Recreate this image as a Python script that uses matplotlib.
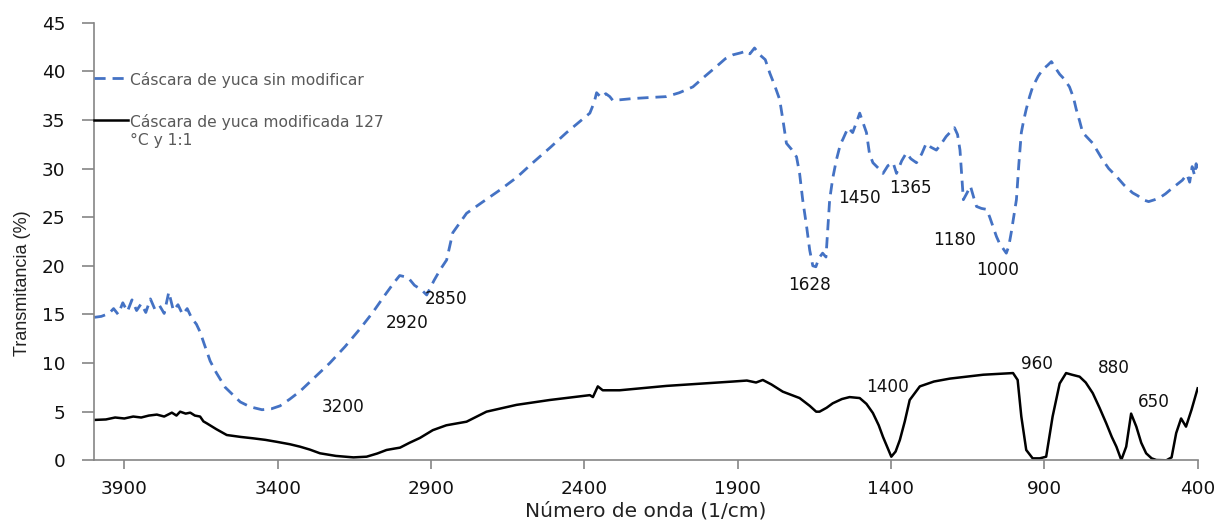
import matplotlib.pyplot as plt
from matplotlib.offsetbox import HPacker

# -------------------------------------------------------------------
# Data (wavenumber in 1/cm, transmittance %)
# -------------------------------------------------------------------
wn_sin = [3998, 3975, 3950, 3935, 3920, 3905, 3890, 3875, 3860, 3845,
          3830, 3815, 3800, 3785, 3770, 3755, 3740, 3725, 3710, 3695,
          3680, 3665, 3653, 3640, 3620, 3600, 3571, 3545, 3522, 3490,
          3451, 3420, 3392, 3360, 3327, 3280, 3230, 3180, 3132, 3090,
          3050, 3020, 3002, 2975, 2954, 2930, 2914, 2890, 2870, 2849,
          2829, 2784, 2730, 2675, 2620, 2568, 2510, 2458, 2420, 2382,
          2368, 2360, 2345, 2330, 2317, 2307, 2275, 2242, 2190, 2132,
          2090, 2046, 2010, 1969, 1940, 1915, 1890, 1870, 1860, 1845,
          1828, 1810, 1795, 1780, 1763, 1750, 1741, 1725, 1708, 1698,
          1688, 1675, 1665, 1655, 1645, 1635, 1623, 1612, 1600, 1590,
          1578, 1565, 1557, 1540, 1525, 1512, 1502, 1490, 1480, 1470,
          1459, 1440, 1426, 1410, 1393, 1382, 1365, 1350, 1335, 1317,
          1300, 1285, 1270, 1252, 1235, 1220, 1205, 1193, 1183, 1175,
          1164, 1152, 1141, 1130, 1121, 1105, 1088, 1078, 1068, 1056,
          1046, 1035, 1024, 1016, 1008, 1000, 991, 983, 975, 967,
          959, 948, 938, 920, 905, 890, 877, 865, 850, 835,
          818, 805, 796, 785, 775, 760, 742, 725, 710, 690,
          665, 640, 612, 595, 579, 560, 540, 524, 505, 490,
          470, 450, 435, 426, 418, 410, 405, 400]
t_sin = [14.7, 14.8, 15.1, 15.6, 15.0, 16.2, 15.3, 16.5, 15.4, 16.1,
         15.2, 16.6, 15.5, 15.9, 15.1, 17.3, 15.4, 16.0, 15.0, 15.6,
         14.6, 14.0, 13.2, 12.0, 10.2, 9.0, 7.5, 6.7, 6.0, 5.5,
         5.2, 5.3, 5.6, 6.3, 7.1, 8.5, 10.0, 11.7, 13.5, 15.2,
         17.0, 18.3, 19.0, 18.8, 18.0, 17.5, 17.0, 18.5, 19.6, 20.6,
         23.4, 25.4, 26.6, 27.8, 29.1, 30.6, 32.2, 33.7, 34.7, 35.7,
         36.8, 37.8, 37.3, 37.7, 37.4, 37.0, 37.1, 37.2, 37.3, 37.4,
         37.8, 38.4, 39.4, 40.5, 41.3, 41.7, 41.9, 42.1, 41.8, 42.4,
         41.7, 41.2, 39.8, 38.6, 37.1, 34.5, 32.6, 32.0, 31.2, 29.5,
         26.8, 24.0, 21.6, 20.0, 19.9, 20.8, 21.3, 20.9, 26.8, 29.0,
         30.9, 32.5, 33.0, 34.2, 33.7, 34.8, 35.7, 34.6, 33.7, 31.5,
         30.6, 30.0, 29.5, 30.3, 30.6, 29.5, 30.8, 31.6, 31.0, 30.6,
         31.5, 32.6, 32.2, 31.9, 32.6, 33.3, 33.8, 34.2, 33.5, 31.9,
         26.8, 27.5, 28.2, 27.0, 26.1, 25.9, 25.8, 25.0, 24.1, 23.0,
         22.3, 21.8, 21.3, 22.0, 23.4, 25.0, 26.8, 30.5, 33.7, 35.0,
         36.1, 37.4, 38.4, 39.5, 40.2, 40.6, 41.0, 40.4, 39.7, 39.2,
         38.4, 37.3, 36.1, 34.9, 33.7, 33.2, 32.6, 31.7, 30.9, 30.0,
         29.2, 28.3, 27.5, 27.2, 26.8, 26.6, 26.8, 27.0, 27.4, 27.8,
         28.3, 28.8, 29.4, 28.6, 30.2, 29.3, 30.5, 29.5]

wn_mod = [3998, 3960, 3930, 3900, 3871, 3845, 3820, 3794, 3770, 3745,
          3730, 3718, 3700, 3685, 3670, 3653, 3642, 3631, 3600, 3566,
          3520, 3480, 3440, 3403, 3360, 3327, 3295, 3262, 3210, 3153,
          3110, 3075, 3045, 3020, 3001, 2970, 2936, 2894, 2850, 2784,
          2719, 2621, 2513, 2382, 2372, 2356, 2340, 2285, 2132, 1915,
          1870, 1840, 1818, 1790, 1753, 1698, 1665, 1644, 1633, 1610,
          1590, 1560, 1535, 1502, 1480, 1459, 1440, 1426, 1410, 1399,
          1385, 1371, 1355, 1339, 1306, 1260, 1208, 1099, 1002, 987,
          975, 959, 938, 915, 894, 873, 850, 829, 810, 785,
          765, 742, 720, 698, 680, 665, 649, 633, 617, 600,
          584, 568, 550, 535, 502, 485, 470, 454, 438, 420,
          400]
t_mod = [4.15, 4.2, 4.4, 4.3, 4.5, 4.4, 4.6, 4.7, 4.5, 4.9,
         4.6, 5.0, 4.8, 4.9, 4.6, 4.5, 4.0, 3.8, 3.2, 2.6,
         2.4, 2.26, 2.1, 1.9, 1.65, 1.4, 1.1, 0.72, 0.45, 0.3,
         0.37, 0.7, 1.06, 1.2, 1.3, 1.8, 2.3, 3.1, 3.6, 3.97,
         5.0, 5.7, 6.2, 6.7, 6.5, 7.6, 7.2, 7.2, 7.65, 8.1,
         8.2, 8.0, 8.26, 7.8, 7.06, 6.4, 5.6, 5.0, 5.0, 5.4,
         5.86, 6.3, 6.5, 6.4, 5.8, 4.86, 3.6, 2.4, 1.2, 0.37,
         0.9, 2.1, 4.0, 6.2, 7.6, 8.1, 8.4, 8.8, 8.97, 8.26,
         4.5, 1.06, 0.2, 0.2, 0.37, 4.5, 7.9, 8.97, 8.8, 8.6,
         8.0, 6.9, 5.4, 3.8, 2.4, 1.4, 0.03, 1.4, 4.8, 3.46,
         1.8, 0.72, 0.2, 0.03, 0.0, 0.3, 2.8, 4.3, 3.46, 5.2,
         7.4]

# peak labels (text, wavenumber, transmittance)
labels = ["3200", "2920", "2850", "1628", "1450", "1365", "1180", "1000",
          "1400", "960", "880", "650"]
label_x = [3187, 2978, 2852, 1665, 1502, 1335, 1193, 1052, 1410, 925, 674, 544]
label_y = [5.5, 14.1, 16.6, 18.0, 27.0, 28.0, 22.7, 19.6, 7.55, 9.9, 9.5, 6.0]

FONT = "DejaVu Sans"

# -------------------------------------------------------------------
# Plot
# -------------------------------------------------------------------
fig = plt.figure(figsize=(12.18, 5.23), dpi=100)
ax = fig.add_axes([0.0774, 0.1199, 0.9059, 0.8367])

ax.plot(wn_sin, t_sin, color="#4472C4", lw=2.0, linestyle=(0, (4, 2.5)),
        label="Cáscara de yuca sin modificar")
ax.plot(wn_mod, t_mod, color="black", lw=1.8,
        label="Cáscara de yuca modificada 127\n°C y 1:1")

for txt, lx, ly in zip(labels, label_x, label_y):
    ax.text(lx, ly, txt, ha="center", va="center", fontsize=12.2,
            family=FONT, color="#111111")

ax.set_xlim(3998, 400)
ax.set_ylim(0, 45)
ax.set_xticks([3900, 3400, 2900, 2400, 1900, 1400, 900, 400])
ax.set_yticks(range(0, 46, 5))

for side in ["top", "right"]:
    ax.spines[side].set_visible(False)
for side in ["left", "bottom"]:
    ax.spines[side].set_color("#858585")
    ax.spines[side].set_linewidth(1.2)
ax.tick_params(axis="both", colors="#858585", width=1.2,
               labelcolor="#111111", labelsize=13.3)
ax.tick_params(axis="x", length=6.5, pad=8)
ax.tick_params(axis="y", length=9, pad=12)
for lab in ax.get_xticklabels() + ax.get_yticklabels():
    lab.set_family(FONT)

ax.set_xlabel("Número de onda (1/cm)", family=FONT, fontsize=14.5,
              color="#222222", labelpad=2)
ax.set_ylabel("Transmitancia (%)", family=["Liberation Sans", "DejaVu Sans"],
              fontsize=13, color="#222222")
ax.yaxis.set_label_coords(-0.057, 0.405)

leg = ax.legend(loc="upper left", bbox_to_anchor=(-0.013, 0.92), frameon=False,
                handlelength=2.2, handleheight=1.0, handletextpad=0.1,
                labelspacing=1.7, prop={"family": FONT, "size": 11.2})
for t in leg.get_texts():
    t.set_color("#595959")
# line handle next to the first line of a two-line label
for hp in leg.findobj(HPacker):
    hp.align = "top"

plt.savefig("out.png", dpi=100)
